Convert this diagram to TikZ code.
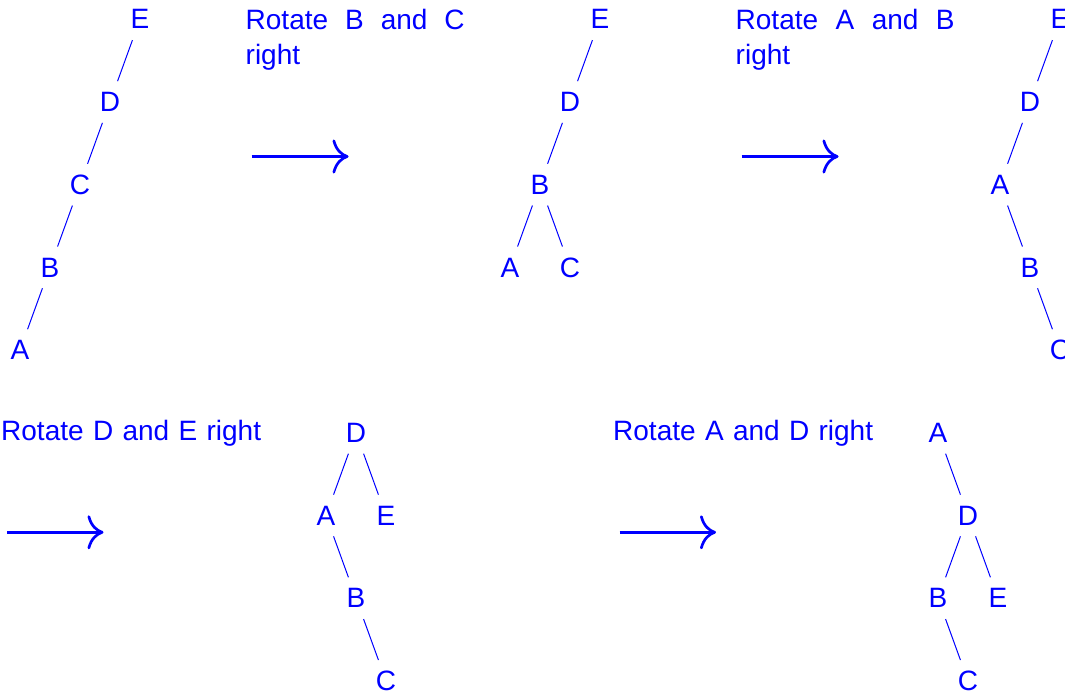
\documentclass[tikz,border=0pt]{standalone}
\usepackage{fontspec}
\setmainfont{Liberation Sans}[WordSpace=1.2]
\usetikzlibrary{arrows.meta}
\begin{document}
\begin{tikzpicture}[x=1pt,y=-1pt,
  tn/.style={circle, minimum size=44pt, inner sep=0pt, font=\fontsize{28}{35}\selectfont, text=blue},
  ed/.style={draw=blue, line width=1pt},
  bigarrow/.style={draw=blue, line width=2.7pt, -{Computer Modern Rightarrow[length=16pt,width=34pt]}},
  lbl/.style={inner sep=0pt, anchor=base west, font=\fontsize{28}{35}\selectfont, text=blue}]
\clip (0,0) rectangle (1065,692);
% row y positions
\def\ra{19.3}\def\rb{102}\def\rc{184.7}\def\rd{267.4}\def\re{350.1}
\def\rf{432.8}\def\rg{515.5}\def\rh{598.2}\def\ri{680.9}
% tree 1
\node[tn] (e1) at (140,\ra) {E};
\node[tn] (d1) at (110,\rb) {D};
\node[tn] (c1) at (80,\rc) {C};
\node[tn] (b1) at (50,\rd) {B};
\node[tn] (a1) at (20,\re) {A};
\draw[ed] (e1) -- (d1);
\draw[ed] (d1) -- (c1);
\draw[ed] (c1) -- (b1);
\draw[ed] (b1) -- (a1);
% label 1 and arrow 1
\node[lbl] (t1) at (245.5,29.3) {\parbox[t]{219pt}{\makebox[219pt][s]{Rotate B and C}\\right}};
\coordinate (s1) at (251.5,156.5);
\coordinate (f1) at (348.5,156.5);
\draw[bigarrow] (s1) -- (f1);
% tree 2
\node[tn] (e2) at (600,\ra) {E};
\node[tn] (d2) at (570,\rb) {D};
\node[tn] (b2) at (540,\rc) {B};
\node[tn] (a2) at (510,\rd) {A};
\node[tn] (c2) at (570,\rd) {C};
\draw[ed] (e2) -- (d2);
\draw[ed] (d2) -- (b2);
\draw[ed] (b2) -- (a2);
\draw[ed] (b2) -- (c2);
% label 2 and arrow 2
\node[lbl] (t2) at (735.5,29.3) {\parbox[t]{219pt}{\makebox[219pt][s]{Rotate A and B}\\right}};
\coordinate (s2) at (741.5,156.5);
\coordinate (f2) at (838.5,156.5);
\draw[bigarrow] (s2) -- (f2);
% tree 3
\node[tn] (e3) at (1060,\ra) {E};
\node[tn] (d3) at (1030,\rb) {D};
\node[tn] (a3) at (1000,\rc) {A};
\node[tn] (b3) at (1030,\rd) {B};
\node[tn] (c3) at (1060,\re) {C};
\draw[ed] (e3) -- (d3);
\draw[ed] (d3) -- (a3);
\draw[ed] (a3) -- (b3);
\draw[ed] (b3) -- (c3);
% label 3 and arrow 3
\node[lbl] (t3) at (1,440.2) {Rotate D and E right};
\coordinate (s3) at (7,532.3);
\coordinate (f3) at (103.5,532.3);
\draw[bigarrow] (s3) -- (f3);
% tree 4
\node[tn] (d4) at (356,\rf) {D};
\node[tn] (a4) at (326,\rg) {A};
\node[tn] (e4) at (386,\rg) {E};
\node[tn] (b4) at (356,\rh) {B};
\node[tn] (c4) at (386,\ri) {C};
\draw[ed] (d4) -- (a4);
\draw[ed] (d4) -- (e4);
\draw[ed] (a4) -- (b4);
\draw[ed] (b4) -- (c4);
% label 4 and arrow 4
\node[lbl] (t4) at (613,440.2) {Rotate A and D right};
\coordinate (s4) at (619.5,532.3);
\coordinate (f4) at (716,532.3);
\draw[bigarrow] (s4) -- (f4);
% tree 5
\node[tn] (a5) at (938,\rf) {A};
\node[tn] (d5) at (968,\rg) {D};
\node[tn] (b5) at (938,\rh) {B};
\node[tn] (e5) at (998,\rh) {E};
\node[tn] (c5) at (968,\ri) {C};
\draw[ed] (a5) -- (d5);
\draw[ed] (d5) -- (b5);
\draw[ed] (d5) -- (e5);
\draw[ed] (b5) -- (c5);
\end{tikzpicture}
\end{document}
